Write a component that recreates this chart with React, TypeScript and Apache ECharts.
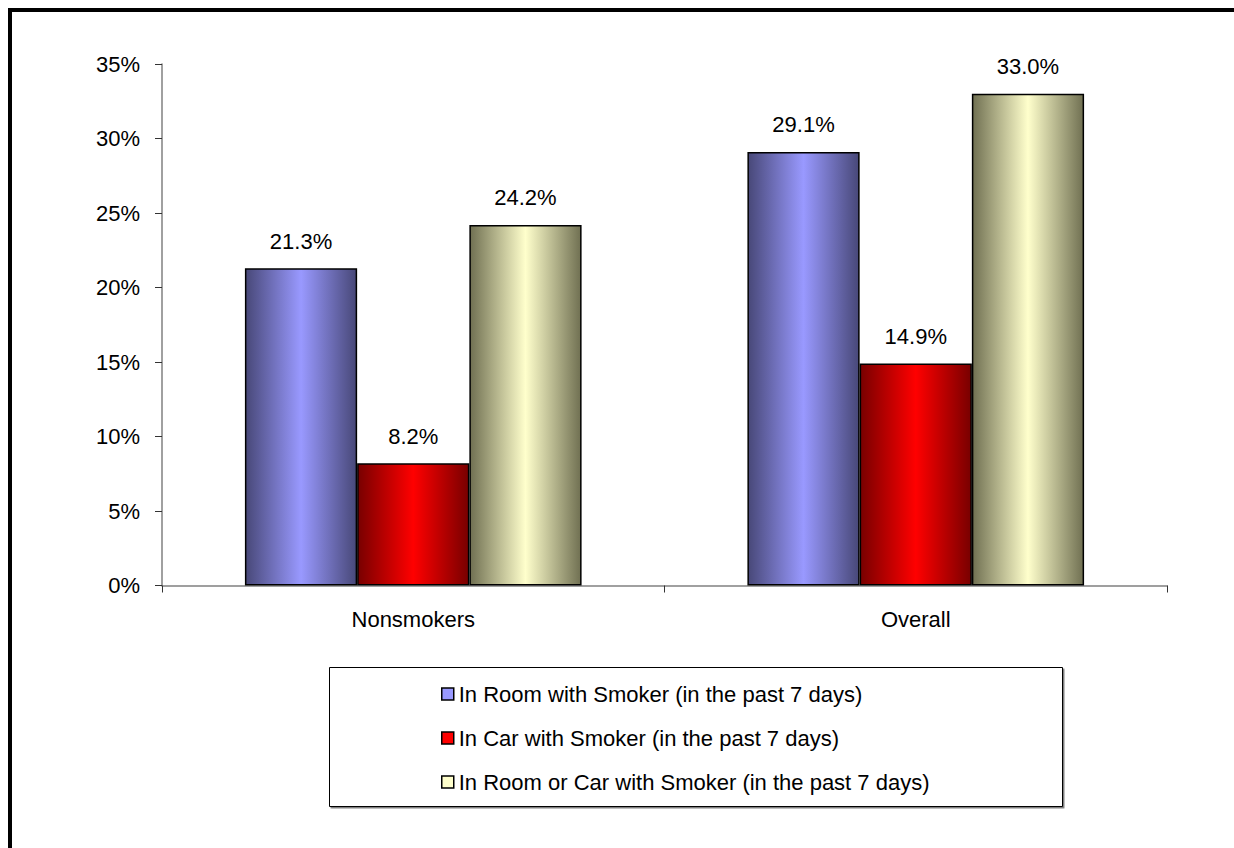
import React, { useEffect, useRef } from "react";
import * as echarts from "echarts";

const categories = ["Nonsmokers", "Overall"];
const seriesNames = [
  "In Room with Smoker (in the past 7 days)",
  "In Car with Smoker (in the past 7 days)",
  "In Room or Car with Smoker (in the past 7 days)",
];
const roomValues = [21.3, 29.1];
const carValues = [8.2, 14.9];
const roomOrCarValues = [24.2, 33.0];
const yTicks = { min: 0, max: 35, interval: 5 };

const palette = [
  { light: "#9999ff", dark: "#484878" },
  { light: "#ff0000", dark: "#780000" },
  { light: "#ffffcc", dark: "#707052" },
];

const FONT = "'Liberation Sans', Arial, sans-serif";

function grad(light: string, dark: string) {
  return new echarts.graphic.LinearGradient(0, 0, 1, 0, [
    { offset: 0, color: dark },
    { offset: 0.5, color: light },
    { offset: 1, color: dark },
  ]);
}

export default function App() {
  const ref = useRef<HTMLDivElement>(null);
  useEffect(() => {
    if (!ref.current) return;
    const chart = echarts.init(ref.current, null, { renderer: "svg" });
    const values = [roomValues, carValues, roomOrCarValues];
    chart.setOption({
      animation: false,
      backgroundColor: "#ffffff",
      textStyle: { fontFamily: FONT },
      grid: { left: 162, right: 67, top: 64, bottom: 262.5, containLabel: false },
      graphic: [
        { type: "rect", shape: { x: 8, y: 8, width: 4, height: 840 }, style: { fill: "#000" } },
        { type: "rect", shape: { x: 8, y: 8, width: 1226, height: 4 }, style: { fill: "#000" } },
        {
          type: "rect",
          z: -1,
          shape: { x: 329.5, y: 667.5, width: 733, height: 139 },
          style: { fill: "#fff", stroke: "#000", lineWidth: 1, shadowColor: "rgba(0,0,0,0.5)", shadowOffsetX: 1.5, shadowOffsetY: 1.5 },
        },
      ],
      legend: {
        orient: "vertical",
        left: 436,
        top: 678,
        itemWidth: 12,
        itemHeight: 12,
        itemGap: 22,
        icon: "rect",
        textStyle: { fontSize: 22, color: "#000", fontFamily: FONT },
        data: seriesNames.map((n, i) => ({
          name: n,
          itemStyle: { color: palette[i].light, borderColor: "#000", borderWidth: 1.5 },
        })),
      },
      xAxis: {
        type: "category",
        data: categories,
        axisLine: { lineStyle: { color: "#808080", width: 1.5 } },
        axisTick: { show: true, length: 7, lineStyle: { color: "#333" } },
        axisLabel: { fontSize: 22, color: "#000", margin: 23, fontFamily: FONT },
      },
      yAxis: {
        type: "value",
        min: yTicks.min,
        max: yTicks.max,
        interval: yTicks.interval,
        splitLine: { show: false },
        axisLine: { show: true, lineStyle: { color: "#808080", width: 1.5 } },
        axisTick: { show: true, length: 7, lineStyle: { color: "#333" } },
        axisLabel: { fontSize: 22, color: "#000", margin: 22, formatter: "{value}%", fontFamily: FONT },
      },
      series: seriesNames.map((n, i) => ({
        name: n,
        type: "bar",
        data: values[i],
        barGap: "0%",
        barCategoryGap: "33%",
        itemStyle: { color: grad(palette[i].light, palette[i].dark), borderColor: "#000", borderWidth: 1.5 },
        label: {
          show: true,
          position: "top",
          distance: 16,
          fontSize: 22,
          color: "#000",
          fontFamily: FONT,
          formatter: (p: any) => Number(p.value).toFixed(1) + "%",
        },
      })),
    });
    return () => chart.dispose();
  }, []);
  return <div ref={ref} style={{ position: "absolute", left: 0, top: 0, width: 1234, height: 848 }} />;
}
